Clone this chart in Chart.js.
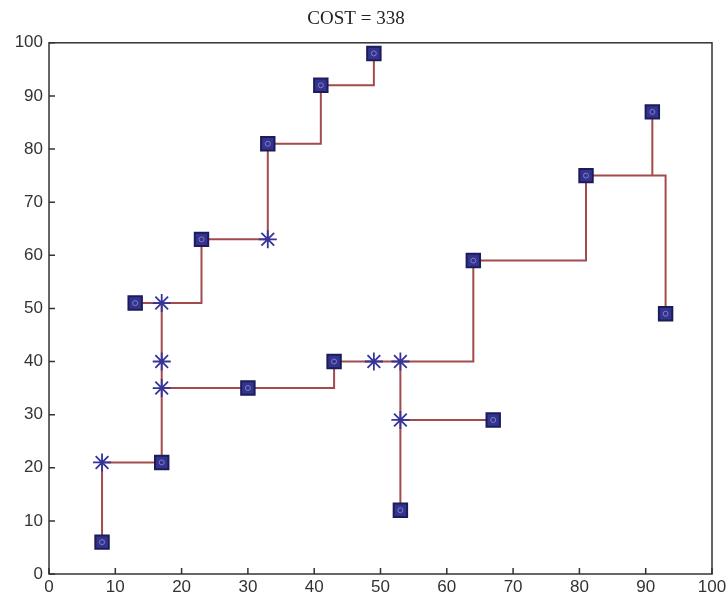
<!DOCTYPE html>
<html>
<head>
<meta charset="utf-8">
<script src="https://cdn.jsdelivr.net/npm/chart.js@4/dist/chart.umd.min.js"></script>
<style>
  html, body { margin: 0; padding: 0; background: #fff; }
  #wrap { width: 726px; height: 601px; }
</style>
</head>
<body>
<div id="wrap"><canvas id="tree"></canvas></div>
<script>
// terminals (squares)
const termX = [8, 17, 13, 23, 33, 41, 49, 30, 43, 53, 67, 64, 81, 91, 93];
const termY = [6, 21, 51, 63, 81, 92, 98, 35, 40, 12, 29, 59, 75, 87, 49];

// steiner points (asterisks)
const steinerX = [8, 17, 17, 17, 33, 49, 53, 53];
const steinerY = [21, 51, 40, 35, 63, 40, 40, 29];

// wire paths, as [x, y] corners
const wires = [
    [[8, 6], [8, 21], [17, 21], [17, 51]],
    [[13, 51], [23, 51], [23, 63], [33, 63], [33, 81], [41, 81], [41, 92], [49, 92], [49, 98]],
    [[17, 35], [43, 35], [43, 40], [64, 40], [64, 59], [81, 59], [81, 75], [93, 75], [93, 49]],
    [[91, 75], [91, 87]],
    [[53, 40], [53, 12]],
    [[53, 29], [67, 29]]
];

const axisTicks = [0, 10, 20, 30, 40, 50, 60, 70, 80, 90, 100];
const title = 'COST = 338';

const toPts = (xs, ys) => xs.map((x, i) => ({ x: x, y: ys[i] }));

const datasets = [];
wires.forEach(w => {
    datasets.push({
        data: w.map(p => ({ x: p[0], y: p[1] })),
        showLine: true,
        borderColor: '#a34a4c',
        borderWidth: 2,
        pointRadius: 0,
        order: 3
    });
});
datasets.push({
    data: toPts(termX, termY),
    pointStyle: 'rect',
    pointRadius: 9.5,
    backgroundColor: '#34348e',
    borderColor: '#1c1c5c',
    borderWidth: 2,
    order: 2
});
datasets.push({
    data: toPts(termX, termY),
    pointStyle: 'circle',
    pointRadius: 2.5,
    backgroundColor: 'rgba(0,0,0,0)',
    borderColor: '#7f7fc8',
    borderWidth: 1,
    order: 1
});
datasets.push({
    data: toPts(steinerX, steinerY),
    pointStyle: 'star',
    pointRadius: 9,
    backgroundColor: '#34349a',
    borderColor: '#34349a',
    borderWidth: 1.8,
    order: 0
});

// matlab style box and inward ticks
const boxPlugin = {
    id: 'box',
    afterDatasetsDraw(chart) {
        const { ctx, chartArea: a, scales } = chart;
        ctx.save();
        ctx.strokeStyle = '#333';
        ctx.lineWidth = 1.5;
        ctx.strokeRect(a.left, a.top, a.right - a.left, a.bottom - a.top);
        ctx.beginPath();
        axisTicks.forEach(v => {
            const px = scales.x.getPixelForValue(v);
            ctx.moveTo(px, a.bottom);
            ctx.lineTo(px, a.bottom - 6);
            const py = scales.y.getPixelForValue(v);
            ctx.moveTo(a.left, py);
            ctx.lineTo(a.left + 6, py);
        });
        ctx.stroke();
        ctx.restore();
    }
};

const tickFont = { family: "'Liberation Sans', Arial, sans-serif", size: 17 };

new Chart(document.getElementById('tree').getContext('2d'), {
    type: 'scatter',
    data: { datasets: datasets },
    options: {
        responsive: true,
        maintainAspectRatio: false,
        animation: false,
        layout: { padding: { top: 3, right: 14, left: 0, bottom: 0 } },
        plugins: {
            legend: { display: false },
            tooltip: { enabled: false },
            title: {
                display: true,
                text: title,
                color: '#222',
                font: { family: "'Liberation Serif', serif", size: 19, weight: 'normal', lineHeight: 1.2 },
                padding: { top: 5, bottom: 12 }
            }
        },
        scales: {
            x: {
                min: 0, max: 100,
                afterBuildTicks: s => { s.ticks = axisTicks.map(v => ({ value: v })); },
                afterFit: s => { s.height = 27; s.paddingLeft = 0; s.paddingRight = 0; },
                grid: { display: false, drawTicks: false },
                border: { display: false },
                ticks: { color: '#333', font: tickFont, padding: 3, maxRotation: 0 }
            },
            y: {
                min: 0, max: 100,
                afterBuildTicks: s => { s.ticks = axisTicks.map(v => ({ value: v })); },
                afterFit: s => { s.width = 49; s.paddingTop = 0; s.paddingBottom = 0; },
                grid: { display: false, drawTicks: false },
                border: { display: false },
                ticks: { color: '#333', font: tickFont, padding: 6 }
            }
        }
    },
    plugins: [boxPlugin]
});
</script>
</body>
</html>
